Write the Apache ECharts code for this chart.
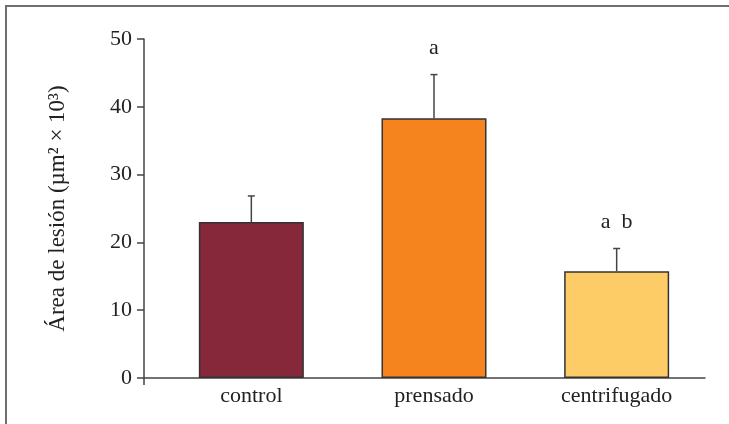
<!DOCTYPE html>
<html><head><meta charset="utf-8">
<script src="https://cdn.jsdelivr.net/npm/echarts@6/dist/echarts.min.js"></script>
<style>html,body{margin:0;padding:0;background:#fff}#c{width:729px;height:424px}</style>
</head><body><div id="c"></div>
<script>
const categories = ['control', 'prensado', 'centrifugado'];
const means = [23.0, 38.3, 15.75];
const errors = [3.85, 6.45, 3.35];
const sigLetters = ['', 'a', 'a  b'];
const barColors = ['#86283a', '#f5841f', '#fecc66'];
const yTicks = [0, 10, 20, 30, 40, 50];

const FONT = '"Liberation Serif", "DejaVu Serif", serif';
const chart = echarts.init(document.getElementById('c'));
chart.setOption({
  animation: false,
  graphic: [{
    type: 'polyline', silent: true,
    shape: { points: [[6, 430], [6, 6], [735, 6]] },
    style: { stroke: '#6e6e6e', lineWidth: 2, fill: null }
  }],
  grid: [
    { left: 144, top: 39, width: 561, height: 339 },
    { left: 160, top: 39, width: 548, height: 339 }
  ],
  xAxis: [
    { gridIndex: 0, type: 'value', min: 0, max: 1,
      axisLine: { show: true, lineStyle: { color: '#444', width: 1.5 } },
      axisTick: { show: true, customValues: [0], length: 7, lineStyle: { color: '#444', width: 1.5 } },
      axisLabel: { show: false }, splitLine: { show: false } },
    { gridIndex: 1, type: 'category', data: categories,
      axisLine: { show: false }, axisTick: { show: false },
      axisLabel: { margin: 7, fontFamily: FONT, fontSize: 22, color: '#222' } }
  ],
  yAxis: [
    { gridIndex: 0, type: 'value', min: yTicks[0], max: yTicks[yTicks.length - 1], interval: 10,
      name: 'Área de lesión (µm² × 10³)', nameLocation: 'middle', nameGap: 75,
      nameTextStyle: { fontFamily: FONT, fontSize: 23, color: '#222' },
      axisLine: { show: true, lineStyle: { color: '#444', width: 1.5 } },
      axisTick: { show: true, length: 7, lineStyle: { color: '#444', width: 1.5 } },
      axisLabel: { margin: 12, fontFamily: FONT, fontSize: 22, color: '#222' },
      splitLine: { show: false } },
    { gridIndex: 1, type: 'value', min: 0, max: 50, show: false }
  ],
  series: [
    { type: 'bar', xAxisIndex: 1, yAxisIndex: 1, barWidth: 105,
      data: means.map((v, i) => ({ value: v, itemStyle: { color: barColors[i] } })),
      itemStyle: { borderColor: '#333', borderWidth: 1.5 }, z: 2 },
    { type: 'custom', xAxisIndex: 1, yAxisIndex: 1, z: 3,
      data: means.map((v, i) => [i, v, errors[i]]),
      renderItem: function (params, api) {
        const i = api.value(0);
        const top = api.coord([i, api.value(1)]);
        const hi = api.coord([i, api.value(1) + api.value(2)]);
        const cap = 3.5;
        const children = [
          { type: 'line', shape: { x1: top[0], y1: top[1], x2: hi[0], y2: hi[1] },
            style: { stroke: '#444', lineWidth: 1.5 } },
          { type: 'line', shape: { x1: hi[0] - cap, y1: hi[1], x2: hi[0] + cap, y2: hi[1] },
            style: { stroke: '#444', lineWidth: 1.5 } }
        ];
        const t = sigLetters[params.dataIndex];
        if (t) {
          children.push({ type: 'text', style: { text: t, x: hi[0], y: hi[1] - 26,
            align: 'center', verticalAlign: 'middle', font: '22px ' + FONT, fill: '#222' } });
        }
        return { type: 'group', children: children };
      } }
  ]
});
</script></body></html>
